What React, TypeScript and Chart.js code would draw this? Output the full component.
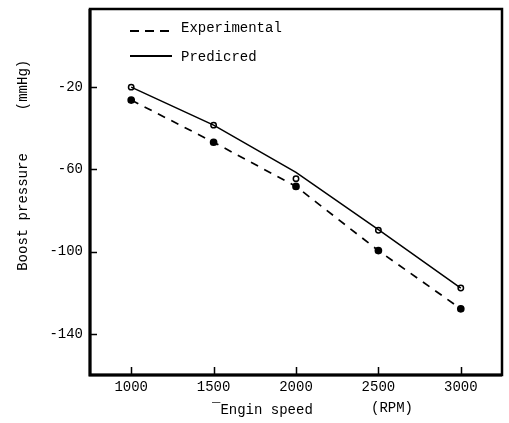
import React, { useEffect, useRef } from "react";
import { Chart, registerables } from "chart.js";

Chart.register(...registerables);

const rpm = [1000, 1500, 2000, 2500, 3000];
const experimental = [-26.3, -46.8, -68.3, -99.5, -127.8];
const predictedLine = [-20, -38.5, -61.5, -89.3, -117.7];
const predictedPoints = [-20, -38.5, -64.5, -89.6, -117.7];
const xTicks = [1000, 1500, 2000, 2500, 3000];
const yTicks = [-20, -60, -100, -140];
const legendLabels = ["Experimental", "Predicred"];
const yTitleMain = "Boost pressure";
const yTitleUnit = "(mmHg)";
const xTitleMain = "¯Engin speed";
const xTitleUnit = "(RPM)";

const FONT = "'Liberation Mono', 'DejaVu Sans Mono', monospace";

const decorPlugin = {
  id: "decor",
  afterDraw(chart: any) {
    const { ctx, chartArea } = chart;
    const { left, right, top, bottom } = chartArea;
    const xs = chart.scales.x;
    const ys = chart.scales.y;
    ctx.save();
    ctx.strokeStyle = "#000";
    // frame
    ctx.lineWidth = 2.5;
    ctx.beginPath();
    ctx.moveTo(left, top);
    ctx.lineTo(right, top);
    ctx.lineTo(right, bottom);
    ctx.lineTo(left, bottom);
    ctx.closePath();
    ctx.stroke();
    ctx.lineWidth = 3;
    ctx.beginPath();
    ctx.moveTo(left, top);
    ctx.lineTo(left, bottom);
    ctx.lineTo(right, bottom);
    ctx.stroke();
    // inward ticks
    ctx.lineWidth = 1.5;
    ctx.beginPath();
    xTicks.forEach((v) => {
      const px = Math.round(xs.getPixelForValue(v)) + 0.5;
      ctx.moveTo(px, bottom);
      ctx.lineTo(px, bottom - 8);
    });
    yTicks.forEach((v) => {
      const py = Math.round(ys.getPixelForValue(v)) + 0.5;
      ctx.moveTo(left, py);
      ctx.lineTo(left + 7, py);
    });
    ctx.stroke();
    // legend
    ctx.fillStyle = "#000";
    ctx.font = `14px ${FONT}`;
    ctx.textBaseline = "middle";
    ctx.textAlign = "left";
    ctx.lineWidth = 2;
    ctx.setLineDash([9, 6]);
    ctx.beginPath();
    ctx.moveTo(left + 40, top + 22);
    ctx.lineTo(left + 82, top + 22);
    ctx.stroke();
    ctx.setLineDash([]);
    ctx.beginPath();
    ctx.moveTo(left + 40, top + 47);
    ctx.lineTo(left + 82, top + 47);
    ctx.stroke();
    ctx.fillText(legendLabels[0], left + 91, top + 19);
    ctx.fillText(legendLabels[1], left + 91, top + 48);
    // x title
    ctx.textAlign = "left";
    ctx.fillText(xTitleMain, 212, 410);
    ctx.fillText(xTitleUnit, 371, 408);
    // y title
    ctx.save();
    ctx.translate(23, 0);
    ctx.rotate(-Math.PI / 2);
    ctx.textAlign = "center";
    ctx.fillText(yTitleMain, -212, 0);
    ctx.fillText(yTitleUnit, -85, 0);
    ctx.restore();
    ctx.restore();
  },
};

export default function App() {
  const ref = useRef<HTMLCanvasElement>(null);
  useEffect(() => {
    if (!ref.current) return;
    const chart = new Chart(ref.current, {
      type: "line",
      data: {
        datasets: [
          {
            label: legendLabels[0],
            data: rpm.map((x, i) => ({ x, y: experimental[i] })),
            borderColor: "#000",
            borderWidth: 1.7,
            borderDash: [8, 7],
            pointRadius: 3,
            pointBackgroundColor: "#000",
            pointBorderColor: "#000",
            tension: 0,
          },
          {
            label: legendLabels[1],
            data: rpm.map((x, i) => ({ x, y: predictedLine[i] })),
            borderColor: "#000",
            borderWidth: 1.5,
            pointRadius: 0,
            tension: 0,
          },
          {
            label: legendLabels[1] + " points",
            data: rpm.map((x, i) => ({ x, y: predictedPoints[i] })),
            showLine: false,
            pointRadius: 2.7,
            pointBorderWidth: 1.5,
            pointBackgroundColor: "#fff",
            pointBorderColor: "#000",
          },
        ],
      },
      options: {
        animation: false,
        responsive: false,
        maintainAspectRatio: false,
        layout: { padding: { top: 9, right: 7, left: 0, bottom: 0 } },
        plugins: { legend: { display: false }, tooltip: { enabled: false } },
        scales: {
          x: {
            type: "linear",
            min: 750,
            max: 3250,
            grid: { display: false, drawTicks: false },
            border: { display: false },
            afterBuildTicks: (s: any) => {
              s.ticks = xTicks.map((v) => ({ value: v }));
            },
            afterFit: (s: any) => {
              s.height = 48;
              s.paddingLeft = 0;
              s.paddingRight = 0;
            },
            ticks: {
              color: "#000",
              padding: 4,
              font: { family: FONT, size: 14 },
              callback: (v: any) => String(v),
            },
          },
          y: {
            type: "linear",
            min: -160,
            max: 18,
            grid: { display: false, drawTicks: false },
            border: { display: false },
            afterBuildTicks: (s: any) => {
              s.ticks = yTicks.map((v) => ({ value: v }));
            },
            afterFit: (s: any) => {
              s.width = 90;
              s.paddingTop = 0;
              s.paddingBottom = 0;
            },
            ticks: {
              color: "#000",
              padding: 7,
              font: { family: FONT, size: 14 },
              callback: (v: any) => String(v),
            },
          },
        },
      },
      plugins: [decorPlugin],
    });
    return () => chart.destroy();
  }, []);
  return (
    <div style={{ position: "fixed", left: 0, top: 0, width: 509, height: 423, background: "#fff" }}>
      <canvas ref={ref} width={509} height={423} style={{ display: "block" }} />
    </div>
  );
}
